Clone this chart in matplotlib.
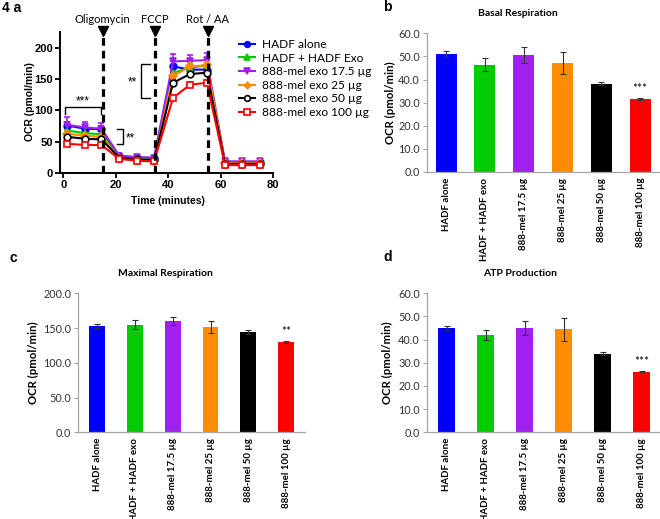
import matplotlib
matplotlib.use("Agg")
import matplotlib.pyplot as plt
import numpy as np

# ---------------- data ----------------
time_min = [1.5, 8.2, 14.5, 21.3, 28.0, 34.6, 41.8, 48.3, 54.7, 61.6, 68.2, 74.8]
series_names = ["HADF alone", "HADF + HADF Exo", "888-mel exo 17.5 \u00b5g",
                "888-mel exo 25 \u00b5g", "888-mel exo 50 \u00b5g", "888-mel exo 100 \u00b5g"]
ocr_hadf = [76, 71, 70, 27, 25, 24, 170, 165, 165, 18, 18, 18]
ocr_hadf_exo = [68, 64, 62, 26, 23, 22, 160, 168, 172, 17, 17, 17]
ocr_mel175 = [77, 73, 71, 28, 26, 25, 178, 179, 180, 19, 19, 19]
ocr_mel25 = [63, 60, 58, 24, 21, 20, 155, 170, 172, 16, 16, 16]
ocr_mel50 = [58, 55, 54, 25, 22, 21, 144, 158, 160, 15, 15, 15]
ocr_mel100 = [47, 45, 45, 23, 20, 19, 120, 141, 144, 13, 13, 13]
err_hadf = [5, 5, 5, 3, 3, 3, 8, 7, 7, 3, 3, 3]
err_hadf_exo = [5, 5, 5, 3, 3, 3, 9, 9, 9, 3, 3, 3]
err_mel175 = [12, 9, 9, 4, 3, 3, 12, 10, 12, 4, 4, 4]
err_mel25 = [5, 5, 5, 3, 3, 3, 9, 12, 13, 3, 3, 3]
err_mel50 = [4, 4, 4, 3, 3, 3, 6, 6, 6, 3, 3, 3]
err_mel100 = [3, 3, 3, 3, 3, 3, 5, 5, 5, 3, 3, 3]
injections = ["Oligomycin", "FCCP", "Rot / AA"]
injection_times = [15, 35, 55]

bar_categories = ["HADF alone", "HADF + HADF exo", "888-mel 17.5 \u00b5g",
                  "888-mel 25 \u00b5g", "888-mel 50 \u00b5g", "888-mel 100 \u00b5g"]
basal_vals = [51.0, 46.5, 50.5, 47.2, 38.2, 31.6]
basal_errs = [1.2, 2.7, 3.5, 4.8, 0.7, 0.4]
maximal_vals = [153.0, 155.0, 160.5, 151.5, 144.0, 130.0]
maximal_errs = [3.0, 6.5, 5.5, 8.5, 3.0, 1.2]
atp_vals = [45.0, 42.0, 45.0, 44.5, 34.0, 26.2]
atp_errs = [0.8, 2.2, 3.0, 5.0, 0.5, 0.3]

colors = ["#0000ff", "#00cc00", "#a020f0", "#ff8c00", "#000000", "#ff0000"]
markers = ["o", "^", "v", "D", "o", "s"]
filled = [True, True, True, True, False, False]

W, H = 660, 519
fig = plt.figure(figsize=(W / 100, H / 100), dpi=100)


def ax_px(l, t, r, b):
    return fig.add_axes([l / W, 1 - b / H, (r - l) / W, (b - t) / H])


def ftxt(x, y, s, **kw):
    return fig.text(x / W, 1 - y / H, s, **kw)


ARIAL = "Liberation Sans"
CALI = "Lato"

# ---------------- panel a ----------------
axa = ax_px(59.9, 31.9, 273.3, 173.3)
axa.set_xlim(-1.3, 80)
axa.set_ylim(0, 225)
all_vals = [ocr_hadf, ocr_hadf_exo, ocr_mel175, ocr_mel25, ocr_mel50, ocr_mel100]
all_errs = [err_hadf, err_hadf_exo, err_mel175, err_mel25, err_mel50, err_mel100]
handles = []
for name, v, e, c, m, f in zip(series_names, all_vals, all_errs, colors, markers, filled):
    v = np.array(v)
    e = np.array(e)
    axa.errorbar(time_min, v, yerr=[np.zeros_like(e), e], fmt="none", ecolor=c,
                 elinewidth=1.2, capsize=2.5, capthick=1.2, zorder=2)
    ms = 4.8 if m != "D" else 3.8
    h, = axa.plot(time_min, v, color=c, lw=1.5, marker=m, ms=ms,
                  mfc=c if f else "white", mec=c, mew=1.2, zorder=3, label=name)
    handles.append(h)

for t, lab in zip(injection_times, injections):
    axa.plot([t, t], [0, 226], color="black", lw=2.3, dashes=(2.4, 1.6), clip_on=False, zorder=4)
    axa.plot([t], [227], marker="v", color="black", ms=7, clip_on=False, zorder=5)
    axa.text(t, 245, lab, ha="center", va="center", fontsize=8, family=CALI)

for sp in ["top", "right"]:
    axa.spines[sp].set_visible(False)
for sp in ["left", "bottom"]:
    axa.spines[sp].set_linewidth(1.4)
axa.set_xticks([0, 20, 40, 60, 80])
axa.set_yticks([0, 50, 100, 150, 200])
axa.tick_params(length=3.5, width=1.3, labelsize=8, pad=1.5)
for lab in axa.get_xticklabels() + axa.get_yticklabels():
    lab.set_fontweight("bold")
    lab.set_family(ARIAL)

# significance brackets
axa.plot([0.5, 0.5, 14.4, 14.4], [94, 106, 106, 94], color="black", lw=1, clip_on=False)
axa.text(7.3, 114, "***", ha="center", va="center", fontsize=8.5, family=ARIAL)
axa.plot([20.3, 22.6, 22.6, 20.3], [70, 70, 46, 46], color="black", lw=1, clip_on=False)
axa.text(25.4, 55, "**", ha="center", va="center", fontsize=8.5, family=ARIAL)
axa.plot([33, 29.6, 29.6, 33], [174, 174, 119.4, 119.4], color="black", lw=1, clip_on=False)
axa.text(26.4, 145, "**", ha="center", va="center", fontsize=8.5, family=ARIAL)

fig.legend(handles=handles, loc="upper left", bbox_to_anchor=(233 / W, 1 - 33 / H),
           frameon=False, prop={"family": CALI, "size": 8.6}, markerscale=0.85,
           handlelength=1.3, handletextpad=0.6, labelspacing=0.22, borderpad=0)

ftxt(30, 102, "OCR (pmol/min)", rotation=90, ha="center", va="center",
     fontsize=7.5, fontweight="bold", family=ARIAL)
ftxt(168, 201, "Time (minutes)", ha="center", va="center",
     fontsize=7.5, fontweight="bold", family=ARIAL)
ftxt(2, 8, "4 a", ha="left", va="center", fontsize=10, fontweight="bold", family=ARIAL)


# ---------------- bar panels ----------------
def bar_panel(rect, vals, errs, ymax, ystep, width, title, title_xy, star, ylab_x):
    ax = ax_px(*rect)
    x = np.arange(len(vals))
    ax.bar(x, vals, width=width, color=colors, zorder=2)
    ax.errorbar(x, vals, yerr=errs, fmt="none", ecolor="#333333", elinewidth=0.8,
                capsize=2.5, capthick=0.8, zorder=3)
    ax.set_xlim(-0.5, 5.5)
    ax.set_ylim(0, ymax)
    yt = np.arange(0, ymax + ystep / 2, ystep)
    ax.set_yticks(yt)
    ax.set_yticklabels([f"{v:.1f}" for v in yt], family=CALI, fontsize=7.8, color="#333333")
    ax.set_xticks(x)
    ax.set_xticklabels(bar_categories, rotation=90, fontsize=7, fontweight="bold",
                       family=CALI, va="top", ha="center")
    ax.tick_params(axis="x", length=0, pad=4)
    ax.tick_params(axis="y", length=3, width=0.8, color="#a6a6a6", pad=2)
    for sp in ["top", "right"]:
        ax.spines[sp].set_visible(False)
    for sp in ["left", "bottom"]:
        ax.spines[sp].set_color("#a6a6a6")
        ax.spines[sp].set_linewidth(0.9)
    ax.text(x[-1], vals[-1] + errs[-1] + 0.07 * ymax, star, ha="center", va="center",
            fontsize=8.5, family=CALI)
    ftxt(title_xy[0], title_xy[1], title, ha="center", va="center", fontsize=7.5,
         fontweight="bold", family=CALI)
    ymid = (rect[1] + rect[3]) / 2
    ftxt(ylab_x, ymid, "OCR (pmol/min)", rotation=90, ha="center", va="center",
         fontsize=8.2, fontweight="bold", family=CALI)
    return ax


bar_panel((426.7, 33.3, 659.5, 172.0), basal_vals, basal_errs, 60, 10, 0.54,
          "Basal Respiration", (518, 14), "***", 390)
bar_panel((78.3, 293.3, 305.0, 432.3), maximal_vals, maximal_errs, 200, 50, 0.42,
          "Maximal Respiration", (165, 273), "**", 33)
bar_panel((427.0, 293.3, 661.0, 432.3), atp_vals, atp_errs, 60, 10, 0.42,
          "ATP Production", (520, 274), "***", 387)

ftxt(383, 7, "b", ha="left", va="center", fontsize=10, fontweight="bold", family=ARIAL)
ftxt(10, 258, "c", ha="left", va="center", fontsize=10, fontweight="bold", family=ARIAL)
ftxt(383, 257, "d", ha="left", va="center", fontsize=10, fontweight="bold", family=ARIAL)

fig.savefig("out.png", dpi=100)
